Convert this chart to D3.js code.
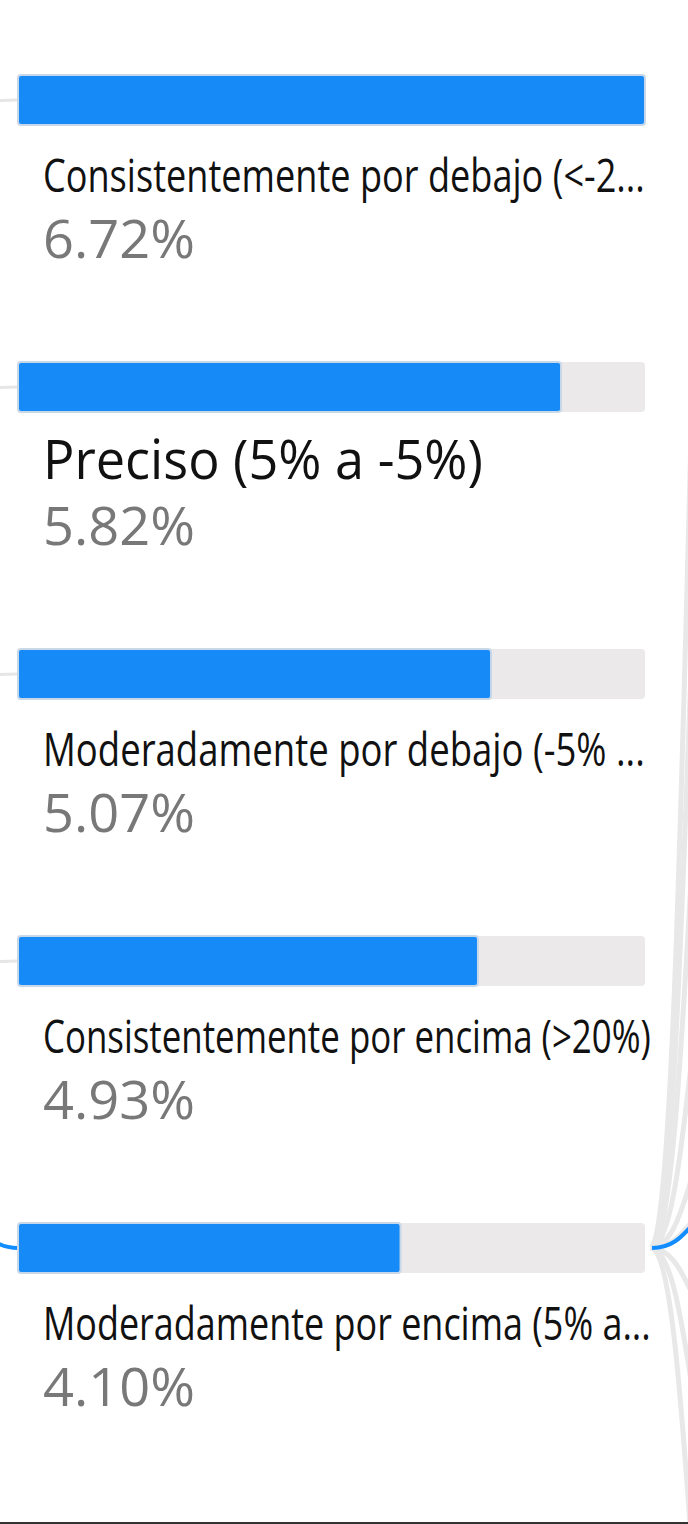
<!DOCTYPE html>
<html>
<head>
<meta charset="utf-8">
<script src="https://cdn.jsdelivr.net/npm/d3@7"></script>
<style>
  html, body { margin: 0; padding: 0; background: #fff; }
  svg { display: block; }
</style>
</head>
<body>
<svg id="chart" width="688" height="1524"></svg>
<script>
const categories = [
  "Consistentemente por debajo (<-2...",
  "Preciso (5% a -5%)",
  "Moderadamente por debajo (-5% ...",
  "Consistentemente por encima (>20%)",
  "Moderadamente por encima (5% a..."
];
const values = [6.72, 5.82, 5.07, 4.93, 4.10];
const valueLabels = ["6.72%", "5.82%", "5.07%", "4.93%", "4.10%"];
const selectedIndex = 4;
const childLinkYs = [-300, 150, 550, 900, 1120, 1200, 1330, 1500, 1800];
const selectedChildY = 1205;

const W = 688, H = 1524;
const svg = d3.select("#chart");

const x = d3.scaleLinear().domain([0, d3.max(values)]).range([0, 627]);
const y = d3.scaleBand().domain(d3.range(categories.length)).range([75, 75 + 287 * 5]).paddingInner(0).paddingOuter(0);
const barH = 50;
const x0 = 18;

const link = d3.linkHorizontal().x(d => d[0]).y(d => d[1]);

// left incoming connectors
const gLinks = svg.append("g");
categories.forEach((c, i) => {
  const ty = y(i) + barH / 2;
  const src = i === selectedIndex ? [-60, ty - 40] : [-200, ty + 40];
  gLinks.append("path")
    .attr("d", link({source: src, target: [x0, ty]}))
    .attr("fill", "none")
    .attr("stroke", i === selectedIndex ? "#118DFF" : "#e6e6e6")
    .attr("stroke-width", i === selectedIndex ? 4 : 3);
});

// right outgoing fan from the selected bar
const sy = y(selectedIndex) + barH / 2;
childLinkYs.forEach(cy => {
  gLinks.append("path")
    .attr("d", link({source: [650, sy], target: [730, cy]}))
    .attr("fill", "none")
    .attr("stroke", "#e8e8e8")
    .attr("stroke-width", 5);
});
gLinks.append("path")
  .attr("d", link({source: [652, sy], target: [730, selectedChildY]}))
  .attr("fill", "none")
  .attr("stroke", "#118DFF")
  .attr("stroke-width", 4);

const g = svg.append("g");
const rows = g.selectAll("g.row").data(categories).join("g").attr("class", "row");

rows.append("rect")
  .attr("x", x0).attr("y", (d, i) => y(i))
  .attr("width", x(d3.max(values))).attr("height", barH)
  .attr("rx", 4)
  .attr("fill", "#ebe9ea");

rows.append("rect")
  .attr("x", x0).attr("y", (d, i) => y(i))
  .attr("width", (d, i) => x(values[i])).attr("height", barH)
  .attr("rx", 3)
  .attr("fill", "#168bf8")
  .attr("stroke", "#c9d8e8")
  .attr("stroke-width", 2);

const labelWidths = [602, 440, 602, 608, 608];
rows.append("text")
  .attr("x", 0)
  .attr("y", 0)
  .attr("font-family", "'Open Sans', 'Noto Sans', sans-serif")
  .attr("font-size", (d, i) => i === 1 ? 54 : 46)
  .attr("fill", "#111")
  .text(d => d)
  .each(function(d, i) {
    const w = this.getComputedTextLength();
    const sx = labelWidths[i] / w;
    d3.select(this).attr("transform", `translate(43,${y(i) + 117}) scale(${sx},1)`);
  });

rows.append("text")
  .attr("x", 0)
  .attr("y", 0)
  .attr("font-family", "'Open Sans', 'Noto Sans', sans-serif")
  .attr("font-size", 53)
  .attr("fill", "#787878")
  .text((d, i) => valueLabels[i])
  .each(function(d, i) {
    const w = this.getComputedTextLength();
    const sx = 152 / w;
    d3.select(this).attr("transform", `translate(43,${y(i) + 183}) scale(${sx},1)`);
  });

// bottom border
svg.append("rect").attr("x", 0).attr("y", H - 2).attr("width", W).attr("height", 2).attr("fill", "#333");
</script>
</body>
</html>
